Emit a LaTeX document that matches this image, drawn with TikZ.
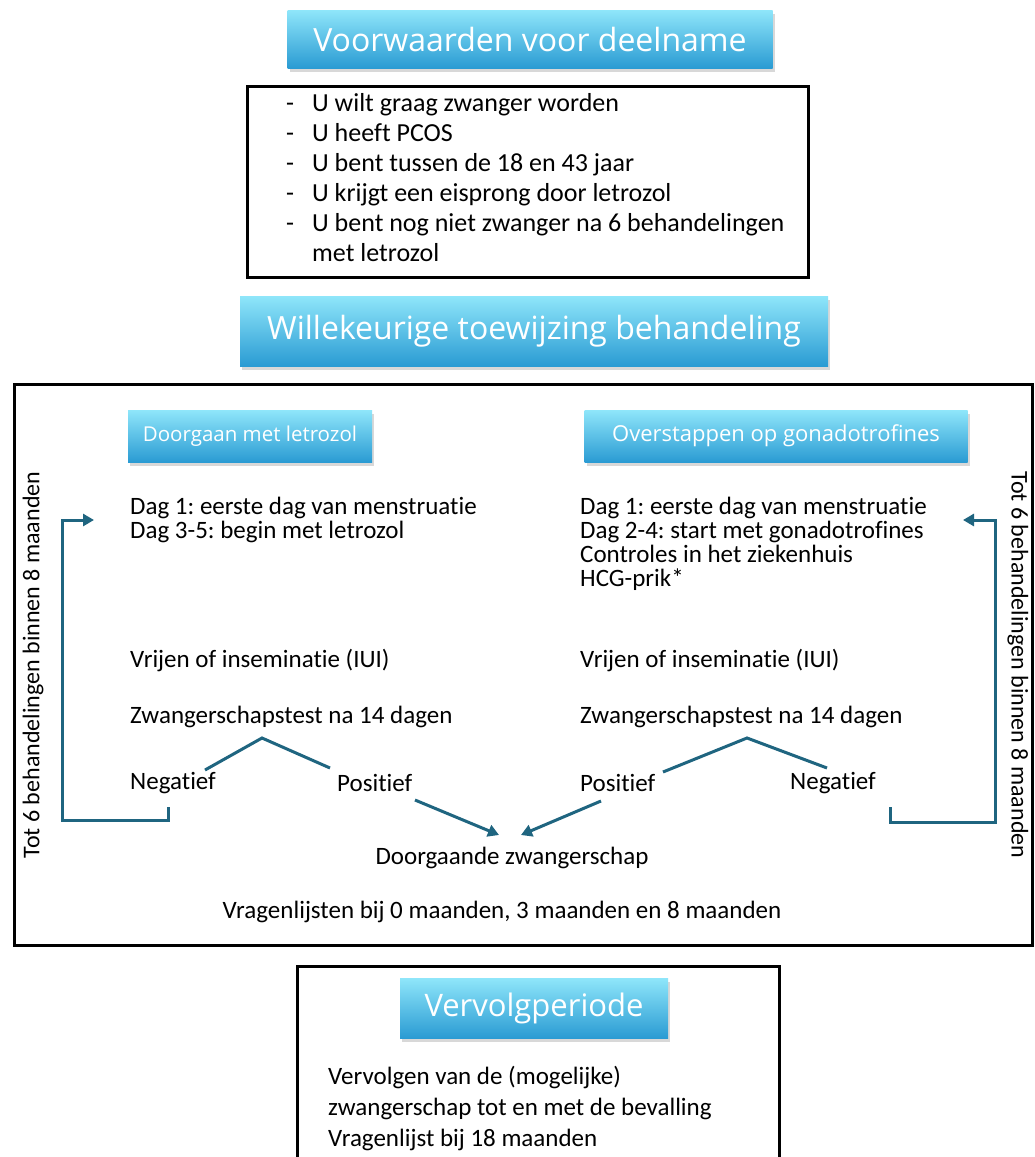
\documentclass[tikz,border=0pt]{standalone}
\usepackage{fontspec}
\setmainfont{Carlito}[Ligatures={NoCommon}]
\newfontfamily\titlefont{Open Sans}
\usetikzlibrary{shadows,arrows.meta}
\definecolor{cyanTop}{HTML}{8FE6FA}
\definecolor{cyanMid}{HTML}{3DB8E8}
\definecolor{cyanBot}{HTML}{2A9BD3}
\definecolor{conncol}{HTML}{1F6580}
\tikzset{
  titlebox/.style={draw=none, top color=cyanTop, middle color=cyanMid, bottom color=cyanBot,
    text=white, inner sep=0pt,
    drop shadow={opacity=0.3, shadow xshift=2pt, shadow yshift=-4pt}},
  body/.style={inner sep=0pt, anchor=west, align=left, font=\fontsize{25}{24}\selectfont},
  frame/.style={draw=black, line width=3pt},
  conn/.style={draw=conncol, line width=3pt},
  arr/.style={conn, -{Triangle[length=11pt,width=12pt]}},
}
\begin{document}
\frenchspacing
\begin{tikzpicture}[x=1pt,y=-1pt]
\fill[white] (0,0) rectangle (1035,1157);
\useasboundingbox (0,0) rectangle (1035,1157);

% Title 1
\node[titlebox, minimum width=485pt, minimum height=58pt, font=\titlefont\fontsize{32}{32}\selectfont] (t1) at (530,39) {Voorwaarden voor deelname};

% Conditions box
\draw[frame] (247,86) rectangle (808,277);
\node[inner sep=0pt, anchor=north west, align=left, font=\fontsize{26}{30}\selectfont] (cond) at (286,93) {%
\makebox[26pt][l]{-}U wilt graag zwanger worden\\
\makebox[26pt][l]{-}U heeft PCOS\\
\makebox[26pt][l]{-}U bent tussen de 18 en 43 jaar\\
\makebox[26pt][l]{-}U krijgt een eisprong door letrozol\\
\makebox[26pt][l]{-}U bent nog niet zwanger na 6 behandelingen\\
\makebox[26pt][l]{}met letrozol};

% Title 2
\node[titlebox, minimum width=588pt, minimum height=70pt, font=\titlefont\fontsize{32}{32}\selectfont] (t2) at (534,331) {Willekeurige toewijzing behandeling};

% Main frame
\draw[frame] (14,384) rectangle (1032,945);

% Sub titles
\node[titlebox, minimum width=244pt, minimum height=52pt, font=\titlefont\fontsize{20.5}{20.5}\selectfont] (sl) at (250,436) {Doorgaan met letrozol};
\node[titlebox, minimum width=383pt, minimum height=52pt, font=\titlefont\fontsize{22}{22}\selectfont] (sr) at (776,436) {Overstappen op gonadotrofines};

% Left column
\node[body] (l1) at (130,520) {Dag 1: eerste dag van menstruatie\\Dag 3-5: begin met letrozol};
\node[body] (l3) at (130,660) {Vrijen of inseminatie (IUI)};
\node[body] (l4) at (130,717) {Zwangerschapstest na 14 dagen};
\node[body] (lneg) at (130,783) {Negatief};
\node[body] (lpos) at (337,783) {Positief};

% Right column
\node[body] (r1) at (580,544) {Dag 1: eerste dag van menstruatie\\Dag 2-4: start met gonadotrofines\\Controles in het ziekenhuis\\HCG-prik*};
\node[body] (r5) at (580,660) {Vrijen of inseminatie (IUI)};
\node[body] (r6) at (580,717) {Zwangerschapstest na 14 dagen};
\node[body] (rpos) at (580,783) {Positief};
\node[body] (rneg) at (790,783) {Negatief};

% Outcome
\node[body, anchor=center] (ong) at (512,858) {Doorgaande zwangerschap};
\node[body, anchor=center] (vrl) at (502,912) {Vragenlijsten bij 0 maanden, 3 maanden en 8 maanden};

% Rotated side labels
\node[inner sep=0pt, rotate=90, font=\fontsize{24}{24}\selectfont] (sideL) at (33,665) {Tot 6 behandelingen binnen 8 maanden};
\node[inner sep=0pt, rotate=-90, font=\fontsize{24}{24}\selectfont] (sideR) at (1018,665) {Tot 6 behandelingen binnen 8 maanden};

% Tree lines
\coordinate (lapex) at (262,738);
\coordinate (rapex) at (747,738);
\draw[conn] (205,770) -- (lapex) -- (330,768);
\draw[conn] (663,772) -- (rapex) -- (827,768);

% Arrows to ongoing pregnancy
\draw[arr] (415,800) -- (499,835);
\draw[arr] (601,801) -- (521,835);

% Loops
\draw[arr] (168,807) -- (168,820) -- (62,820) -- (62,520) -- (94,520);
\draw[arr] (890,807) -- (890,822) -- (995,822) -- (995,520) -- (963,520);

% Follow-up box
\draw[frame] (297,1160) -- (297,966) -- (779,966) -- (779,1160);
\node[titlebox, minimum width=268pt, minimum height=60pt, font=\titlefont\fontsize{31}{31}\selectfont] (t3) at (534,1008) {Vervolgperiode};
\node[inner sep=0pt, anchor=north west, align=left, font=\fontsize{25}{31}\selectfont] (fu) at (328,1066) {%
Vervolgen van de (mogelijke)\\
zwangerschap tot en met de bevalling\\
Vragenlijst bij 18 maanden};
\end{tikzpicture}
\end{document}
